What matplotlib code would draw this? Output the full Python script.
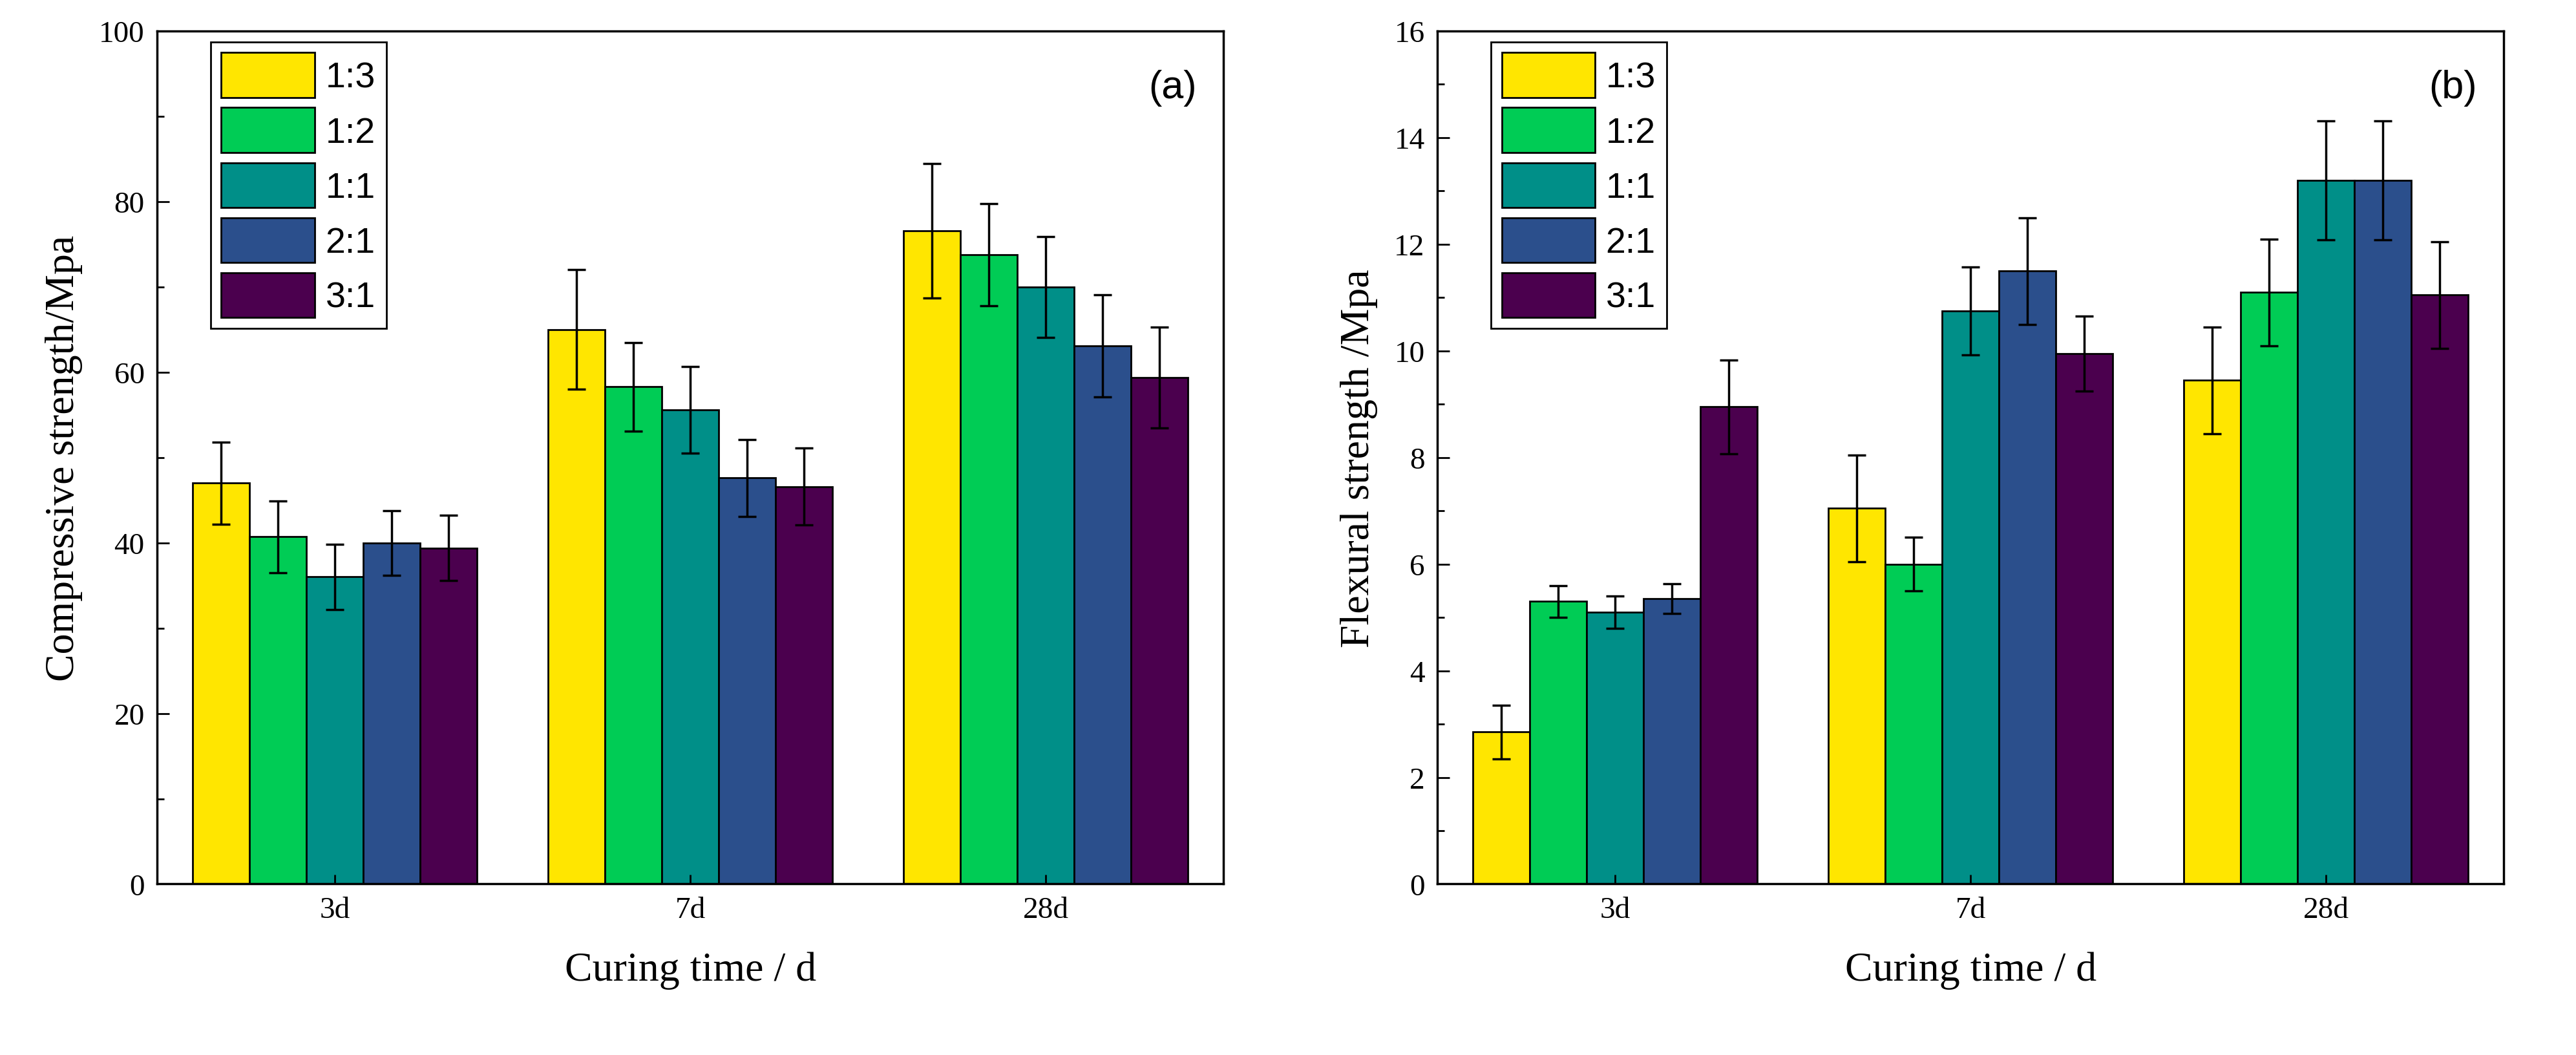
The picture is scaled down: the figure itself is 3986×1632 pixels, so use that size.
import numpy as np
import matplotlib
matplotlib.use('Agg')
import matplotlib.pyplot as plt
import matplotlib.patches as mpatches

times = ['3d', '7d', '28d']
ratios = ['1:3', '1:2', '1:1', '2:1', '3:1']
colors = ['#FFE600', '#00CC55', '#008F88', '#2B4F8C', '#4B004E']

comp = [[47.0, 40.7, 36.0, 40.0, 39.4],
        [65.0, 58.3, 55.6, 47.6, 46.6],
        [76.6, 73.8, 70.0, 63.1, 59.4]]
comp_err = [[4.8, 4.2, 3.8, 3.8, 3.8],
            [7.0, 5.2, 5.1, 4.5, 4.5],
            [7.9, 6.0, 5.9, 6.0, 5.9]]
flex = [[2.85, 5.3, 5.1, 5.35, 8.95],
        [7.05, 6.0, 10.75, 11.5, 9.95],
        [9.45, 11.1, 13.2, 13.2, 11.05]]
flex_err = [[0.5, 0.3, 0.3, 0.28, 0.88],
            [1.0, 0.5, 0.82, 1.0, 0.7],
            [1.0, 1.0, 1.12, 1.12, 1.0]]

plt.rcParams['font.family'] = 'Liberation Serif'
fig = plt.figure(figsize=(39.86, 16.33), dpi=100)
ax1 = fig.add_axes([0.061, 0.162, 0.414, 0.808])
ax2 = fig.add_axes([0.558, 0.162, 0.414, 0.808])

def panel(ax, vals, errs, ymax, major, ylabel, tag):
    vals = np.array(vals); errs = np.array(errs)
    x = np.arange(len(times))
    w = 0.16
    handles = []
    for i, r in enumerate(ratios):
        xs = x + (i - 2) * w
        ax.bar(xs, vals[:, i], w, color=colors[i], edgecolor='black', linewidth=2)
        ax.errorbar(xs, vals[:, i], yerr=errs[:, i], fmt='none', ecolor='black',
                    elinewidth=2.5, capsize=10, capthick=2.5)
        handles.append(mpatches.Patch(facecolor=colors[i], edgecolor='black', linewidth=2, label=r))
    ax.set_xlim(-0.5, 2.5)
    ax.set_ylim(0, ymax)
    ax.set_xticks(x)
    ax.set_xticklabels(times)
    ax.set_yticks(np.arange(0, ymax + 0.01, major))
    ax.set_yticks(np.arange(0, ymax + 0.01, major / 2), minor=True)
    ax.tick_params(direction='in', length=14, width=2, labelsize=34, pad=14)
    ax.tick_params(which='minor', direction='in', length=8, width=2)
    ax.tick_params(axis='x', length=10)
    for s in ax.spines.values():
        s.set_linewidth(2.5)
    ax.set_ylabel(ylabel, fontsize=46, labelpad=18)
    ax.set_xlabel('Curing time / d', fontsize=46, labelpad=30)
    ax.text(0.975, 0.955, tag, transform=ax.transAxes, ha='right', va='top',
            fontsize=44, family='Liberation Sans')
    leg = ax.legend(handles=handles, loc='upper left', bbox_to_anchor=(0.04, 1.0),
                    prop={'family': 'Liberation Sans', 'size': 40},
                    fancybox=False, edgecolor='black', framealpha=1,
                    handlelength=2.6, handleheight=1.55, labelspacing=0.28,
                    handletextpad=0.3, borderpad=0.3, borderaxespad=0.3)
    leg.get_frame().set_linewidth(2)

panel(ax1, comp, comp_err, 100, 20, 'Compressive strength/Mpa', '(a)')
panel(ax2, flex, flex_err, 16, 2, 'Flexural strength /Mpa', '(b)')

fig.savefig('out.png', dpi=100, facecolor='white')
